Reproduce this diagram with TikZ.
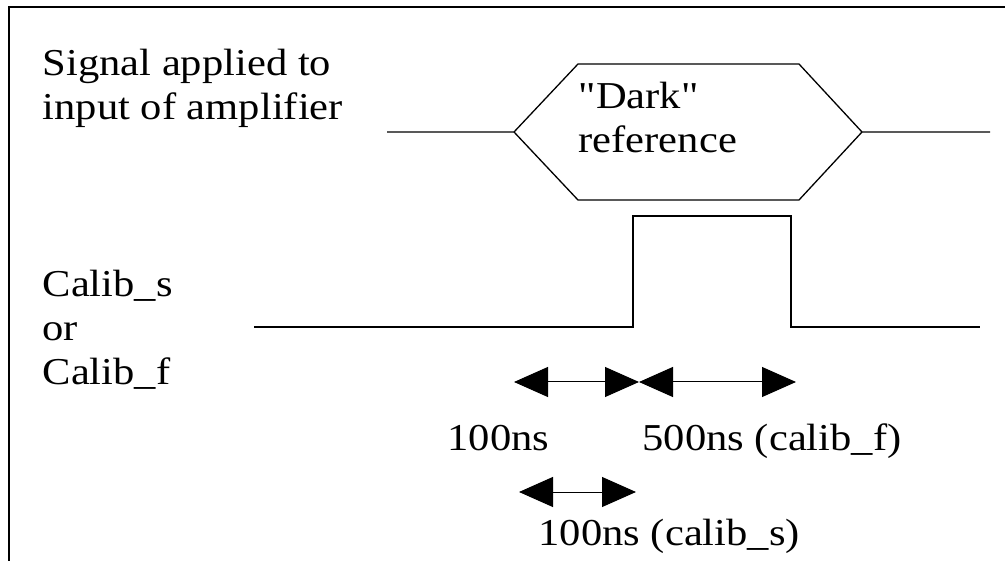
\documentclass[tikz,border=0pt]{standalone}
\usepackage{fontspec}
\setmainfont{Liberation Serif}[FakeStretch=1.12,Ligatures=TeXOff]
\usetikzlibrary{arrows.meta}
\begin{document}
\begin{tikzpicture}[x=1pt,y=-1pt,line width=1.3pt,
  every node/.style={inner sep=0pt,anchor=base west,font=\fontsize{38}{44}\selectfont},
  dim/.style={{Triangle[length=34pt,width=30pt]}-{Triangle[length=34pt,width=30pt]},line width=1pt}]
\useasboundingbox (0,0) rectangle (1005,561);
\draw (9,561) -- (9,7) -- (1005,7);
% labels on the left
\node(sig1) at (42,76){Signal applied to};
\node(sig2) at (42,120){input of amplifier};
\node(cal1) at (42,297){Calib\_s};
\node(cal2) at (42,341){or};
\node(cal3) at (42,385){Calib\_f};
% input signal with the dark window
\coordinate(hl) at (514,132);\coordinate(hr) at (862,132);
\draw (387,132) -- (hl) -- (578,64) -- (799,64) -- (hr) -- (990,132);
\draw (hl) -- (578,200) -- (799,200) -- (hr);
\node(dark1) at (578,109){"Dark"};
\node(dark2) at (578,153){reference};
% calibration pulse
\draw (254,327) -- (633,327) -- (633,216) -- (791,216) -- (791,327) -- (980,327);
% timing marks
\coordinate(a1) at (514,382);\coordinate(a2) at (639,382);\coordinate(a3) at (796,382);
\coordinate(b1) at (519,492);\coordinate(b2) at (636,492);
\draw[dim](a1) -- (a2);\draw[dim](a2) -- (a3);\draw[dim](b1) -- (b2);
\node(t100) at (447,450){100ns};
\node(t500) at (642,450){500ns (calib\_f)};
\node(t100s) at (538,545){100ns (calib\_s)};
\end{tikzpicture}
\end{document}
